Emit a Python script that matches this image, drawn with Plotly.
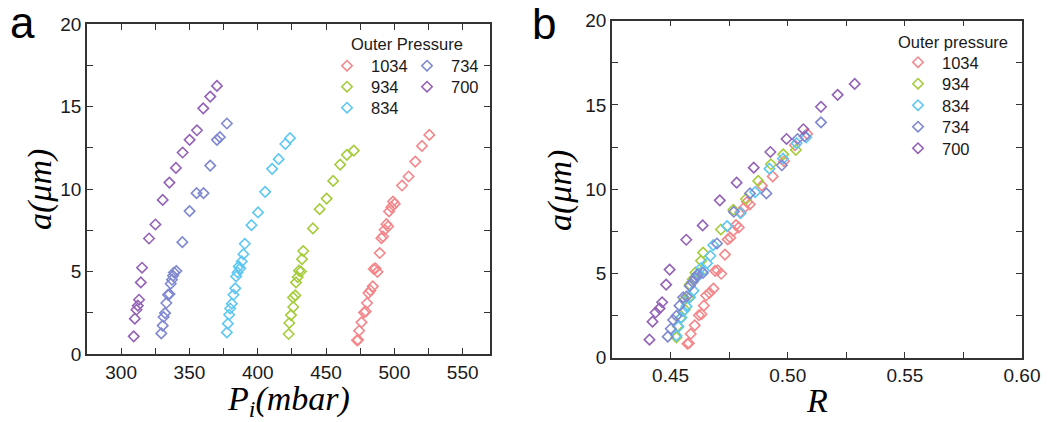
import plotly.graph_objects as go

# ---------------- data ----------------
series_names = ["1034", "934", "834", "734", "700"]
colors = ["#F4878B", "#A6CC3C", "#5EC7F2", "#7F88D0", "#9462B6"]

pi_1034 = [472.7, 473.4, 474.2, 475.9, 477.8, 479.0, 480.0, 481.0, 482.5, 484.2, 484.9, 486.1, 487.6, 489.3,
           490.5, 491.7, 492.9, 494.2, 495.4, 496.1, 497.8, 499.0, 500.2, 505.6, 510.4, 515.3, 520.2, 525.6]
a_1034 = [0.83, 0.86, 1.41, 1.92, 2.52, 2.58, 3.09, 3.69, 3.85, 4.10, 5.15, 5.19, 4.98, 6.12,
          7.02, 7.12, 7.53, 7.87, 7.73, 8.64, 8.90, 9.24, 9.10, 10.21, 10.76, 11.66, 12.61, 13.28]
r_1034 = [0.4572, 0.4578, 0.4586, 0.4603, 0.4621, 0.4632, 0.4642, 0.4652, 0.4666, 0.4683, 0.4690, 0.4701,
          0.4716, 0.4732, 0.4744, 0.4755, 0.4767, 0.4779, 0.4791, 0.4798, 0.4814, 0.4826, 0.4838, 0.4890,
          0.4936, 0.4984, 0.5031, 0.5083]

pi_934 = [422.6, 423.1, 424.3, 426.0, 425.8, 427.5, 428.0, 429.2, 430.2, 431.6, 432.4, 433.3, 440.4, 445.3,
          450.4, 455.2, 460.3, 465.2, 470.3]
a_934 = [1.21, 1.88, 2.36, 2.85, 3.43, 3.55, 4.34, 4.66, 5.05, 5.00, 5.75, 6.24, 7.61, 8.78,
         9.42, 10.49, 11.48, 12.07, 12.33]
r_934 = [0.4525, 0.4530, 0.4543, 0.4561, 0.4559, 0.4577, 0.4582, 0.4595, 0.4606, 0.4621, 0.4630, 0.4639,
         0.4715, 0.4768, 0.4822, 0.4874, 0.4928, 0.4981, 0.5035]

pi_834 = [377.4, 378.1, 379.1, 379.8, 381.0, 382.2, 383.5, 384.2, 385.2, 386.1, 387.1, 388.3, 389.5, 390.5,
          395.4, 400.2, 405.4, 410.5, 415.3, 420.2, 423.6]
a_834 = [1.31, 1.84, 2.38, 2.76, 3.05, 3.59, 3.98, 4.70, 4.94, 5.31, 5.19, 5.61, 6.05, 6.68,
         7.81, 8.58, 9.83, 11.22, 11.81, 12.73, 13.08]
r_834 = [0.4525, 0.4534, 0.4546, 0.4554, 0.4568, 0.4583, 0.4598, 0.4607, 0.4619, 0.4629, 0.4641, 0.4656,
         0.4670, 0.4682, 0.4741, 0.4799, 0.4861, 0.4922, 0.4980, 0.5038, 0.5079]

pi_734 = [329.4, 330.4, 331.1, 332.1, 333.1, 334.3, 335.3, 336.3, 337.2, 338.0, 338.7, 340.4, 344.8, 350.1,
          355.2, 360.3, 365.2, 370.1, 372.3, 377.4]
a_734 = [1.25, 1.72, 2.24, 2.48, 3.09, 3.59, 3.63, 4.26, 4.50, 4.74, 4.94, 5.03, 6.78, 8.66,
         9.75, 9.75, 11.42, 12.98, 13.14, 13.97]
r_734 = [0.4488, 0.4501, 0.4511, 0.4525, 0.4538, 0.4554, 0.4568, 0.4582, 0.4594, 0.4605, 0.4614, 0.4638,
         0.4698, 0.4770, 0.4839, 0.4909, 0.4975, 0.5042, 0.5072, 0.5142]

pi_700 = [309.2, 310.0, 311.2, 312.2, 313.1, 314.4, 315.3, 320.4, 325.1, 330.4, 335.3, 340.1, 345.0, 350.1,
          355.5, 360.1, 365.2, 370.1]
a_700 = [1.07, 2.14, 2.68, 2.93, 3.29, 4.34, 5.23, 7.00, 7.85, 9.34, 10.39, 11.28, 12.21, 12.98,
         13.56, 14.89, 15.60, 16.25]
r_700 = [0.4410, 0.4423, 0.4436, 0.4453, 0.4464, 0.4481, 0.4496, 0.4567, 0.4637, 0.4710, 0.4782, 0.4855,
         0.4926, 0.4995, 0.5067, 0.5142, 0.5213, 0.5286]

pi_all = [pi_1034, pi_934, pi_834, pi_734, pi_700]
a_all = [a_1034, a_934, a_834, a_734, a_700]
r_all = [r_1034, r_934, r_834, r_734, r_700]

# ---------------- figure ----------------
# The page body has an 8px default margin, so the figure is drawn 8px in from the
# window's top-left corner; size it to fill the rest of the 1053x422 window.
OFF = 8
WIN_W, WIN_H = 1053, 422
W, H = WIN_W - OFF, WIN_H - OFF
SANS = "Liberation Sans, Arial, sans-serif"
SERIF = "Liberation Serif, Times New Roman, serif"
TXT = "#1a1a1a"


def px2x(p):
    """window pixel x -> paper fraction"""
    return (p - OFF) / W


def px2y(p):
    """window pixel y (from top) -> paper fraction"""
    return 1 - (p - OFF) / H


fig = go.Figure()

# legend placement (window pixel positions of each entry's legend box left edge / row centre)
left_leg_pos = [(323, 66), (323, 87), (323, 108), (403, 66), (403, 87)]
right_leg_pos = [(894, 62.5), (894, 84), (894, 105.5), (894, 127), (894, 148.5)]

legend_layout = {}
for i, (name, col, px_, a_) in enumerate(zip(series_names, colors, pi_all, a_all)):
    lid = "legend" if i == 0 else f"legend{i + 1}"
    fig.add_trace(go.Scatter(
        x=px_, y=a_, mode="markers", name=name, legend=lid,
        xaxis="x", yaxis="y",
        marker=dict(symbol="diamond-open", size=8, color=col, line=dict(width=1.6, color=col)),
    ))
    lx, ly = left_leg_pos[i]
    legend_layout[lid] = dict(x=px2x(lx), y=px2y(ly), xanchor="left", yanchor="middle",
                              bgcolor="rgba(0,0,0,0)", font=dict(family=SANS, size=16.5, color=TXT),
                              itemwidth=38)

for i, (name, col, r_, a_) in enumerate(zip(series_names, colors, r_all, a_all)):
    lid = f"legend{i + 6}"
    fig.add_trace(go.Scatter(
        x=r_, y=a_, mode="markers", name=name, legend=lid,
        xaxis="x2", yaxis="y2",
        marker=dict(symbol="diamond-open", size=8, color=col, line=dict(width=1.6, color=col)),
    ))
    lx, ly = right_leg_pos[i]
    legend_layout[lid] = dict(x=px2x(lx), y=px2y(ly), xanchor="left", yanchor="middle",
                              bgcolor="rgba(0,0,0,0)", font=dict(family=SANS, size=16.5, color=TXT),
                              itemwidth=38)

axis_common = dict(
    showgrid=False, zeroline=False, showline=True, linecolor="#333333", linewidth=1.5,
    mirror="ticks", ticks="inside", ticklen=6, tickwidth=1.3, tickcolor="#333333",
    tickfont=dict(family=SANS, size=19, color=TXT), automargin=False,
)
minor_common = dict(ticks="inside", ticklen=6, tickwidth=1.3, tickcolor="#333333", showgrid=False)

fig.update_layout(
    width=W, height=H,
    margin=dict(l=0, r=0, t=0, b=0, pad=0, autoexpand=False),
    paper_bgcolor="white", plot_bgcolor="white",
    xaxis=dict(domain=[px2x(87), px2x(490)], range=[275, 570], dtick=50, tick0=300,
               minor=dict(dtick=25, tick0=275, **minor_common), anchor="y", **axis_common),
    yaxis=dict(domain=[px2y(354), px2y(24)], range=[0, 20], dtick=5,
               minor=dict(dtick=2.5, **minor_common), anchor="x", **axis_common),
    xaxis2=dict(domain=[px2x(612), px2x(1022)], range=[0.425, 0.60], dtick=0.05, tick0=0.45,
                tickformat=".2f", minor=dict(dtick=0.025, tick0=0.425, **minor_common),
                anchor="y2", **axis_common),
    yaxis2=dict(domain=[px2y(357.7), px2y(20.7)], range=[0, 20], dtick=5,
                minor=dict(dtick=2.5, **minor_common), anchor="x2", **axis_common),
    showlegend=True,
    **legend_layout,
)

ann = []
# panel labels
ann.append(dict(text="a", x=px2x(22), y=px2y(22), xref="paper", yref="paper", showarrow=False,
                xanchor="center", yanchor="middle", font=dict(family=SANS, size=44, color="black")))
ann.append(dict(text="b", x=px2x(544), y=px2y(24), xref="paper", yref="paper", showarrow=False,
                xanchor="center", yanchor="middle", font=dict(family=SANS, size=44, color="black")))
# legend titles
ann.append(dict(text="Outer Pressure", x=px2x(349), y=px2y(44), xref="paper", yref="paper", showarrow=False,
                xanchor="left", yanchor="middle", font=dict(family=SANS, size=16.5, color=TXT)))
ann.append(dict(text="Outer pressure", x=px2x(896), y=px2y(42), xref="paper", yref="paper", showarrow=False,
                xanchor="left", yanchor="middle", font=dict(family=SANS, size=16.5, color=TXT)))
# axis titles
ann.append(dict(text="<i>P</i><sub><i>i</i></sub><i>(mbar)</i>", x=px2x(288), y=px2y(401), xref="paper",
                yref="paper", showarrow=False, xanchor="center", yanchor="middle",
                font=dict(family=SERIF, size=34, color="black")))
ann.append(dict(text="<i>R</i>", x=px2x(817), y=px2y(400), xref="paper", yref="paper", showarrow=False,
                xanchor="center", yanchor="middle", font=dict(family=SERIF, size=34, color="black")))
ann.append(dict(text="<i>a(μm)</i>", x=px2x(40), y=px2y(190), xref="paper", yref="paper", showarrow=False,
                xanchor="center", yanchor="middle", textangle=-90,
                font=dict(family=SERIF, size=34, color="black")))
ann.append(dict(text="<i>a(μm)</i>", x=px2x(560), y=px2y(191), xref="paper", yref="paper", showarrow=False,
                xanchor="center", yanchor="middle", textangle=-90,
                font=dict(family=SERIF, size=34, color="black")))
fig.update_layout(annotations=ann)

fig.write_html("out.html")
